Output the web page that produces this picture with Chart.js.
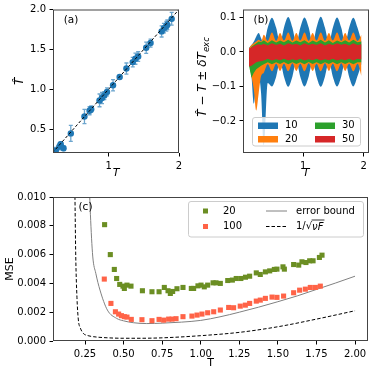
<!DOCTYPE html>
<html><head><meta charset="utf-8">
<script src="https://cdn.jsdelivr.net/npm/chart.js@4.4.0/dist/chart.umd.min.js"></script>
<style>
html,body{margin:0;padding:0;background:#fff;width:374px;height:374px;overflow:hidden;}
canvas{position:absolute;}
</style></head><body>
<canvas id="ca" width="187" height="185" style="left:0;top:0"></canvas>
<canvas id="cb" width="187" height="185" style="left:187px;top:0"></canvas>
<canvas id="cc" width="374" height="194" style="left:0;top:180px"></canvas>
<script>
// ---------- Panel (a) data ----------
const aT    = [0.25,0.30,0.32,0.36,0.463,0.657,0.729,0.753,0.871,0.906,0.939,0.977,1.063,1.157,1.253,1.343,1.381,1.42,1.534,1.596,1.753,1.786,1.82,1.834,1.896];
const aTHat = [0.23,0.28,0.31,0.26,0.446,0.658,0.73,0.75,0.86,0.89,0.92,0.966,1.05,1.154,1.259,1.34,1.383,1.41,1.52,1.579,1.725,1.767,1.79,1.808,1.883];
const aErr  = [0.04,0.04,0.03,0.03,0.10,0.09,0.05,0.04,0.08,0.07,0.05,0.05,0.07,0.02,0.07,0.06,0.07,0.06,0.07,0.05,0.07,0.06,0.06,0.06,0.08];
const aDiag = [0.2, 2.0];
const aXTicks = [1, 2];
const aYTicks = [0.5, 1.0, 1.5, 2.0];

// ---------- Panel (b) data ----------
const bT = [0.10,0.14,0.18,0.22,0.26,0.30,0.345,0.41,0.48,0.55,0.615,0.68,0.75,0.82,0.885,0.95,1.02,1.09,1.155,1.22,1.29,1.36,1.425,1.49,1.56,1.63,1.695,1.76,1.83,1.90,1.965];
const b10Hi = [0.012,0.02,0.03,0.045,0.055,0.04,0.025,0.07,0.099,0.07,0.025,0.071,0.101,0.07,0.025,0.07,0.100,0.071,0.025,0.071,0.102,0.07,0.025,0.07,0.100,0.07,0.025,0.07,0.099,0.07,0.03];
const b10Lo = [-0.03,-0.07,-0.15,-0.09,-0.07,-0.12,-0.27,-0.09,-0.10,-0.072,-0.028,-0.072,-0.101,-0.071,-0.028,-0.072,-0.10,-0.071,-0.028,-0.072,-0.101,-0.071,-0.028,-0.072,-0.10,-0.071,-0.028,-0.072,-0.10,-0.07,-0.035];
const b20Hi = [0.01,0.02,0.025,0.03,0.035,0.03,0.05,0.032,0.056,0.032,0.055,0.033,0.056,0.032,0.055,0.033,0.056,0.032,0.055,0.033,0.056,0.032,0.055,0.033,0.056,0.032,0.055,0.033,0.056,0.032,0.05];
const b20Lo = [-0.03,-0.07,-0.11,-0.17,-0.12,-0.07,-0.06,-0.036,-0.056,-0.034,-0.055,-0.034,-0.056,-0.033,-0.055,-0.034,-0.056,-0.033,-0.055,-0.034,-0.056,-0.033,-0.055,-0.034,-0.056,-0.033,-0.055,-0.034,-0.056,-0.034,-0.07];
const b30Hi = [0.005,0.015,0.02,0.025,0.03,0.028,0.034,0.026,0.034,0.027,0.033,0.028,0.035,0.027,0.033,0.028,0.034,0.026,0.033,0.028,0.035,0.027,0.034,0.026,0.033,0.028,0.034,0.027,0.035,0.028,0.03];
const b30Lo = [-0.04,-0.075,-0.06,-0.05,-0.045,-0.04,-0.036,-0.03,-0.036,-0.03,-0.035,-0.029,-0.036,-0.03,-0.035,-0.03,-0.036,-0.029,-0.035,-0.03,-0.036,-0.03,-0.035,-0.029,-0.036,-0.03,-0.035,-0.03,-0.036,-0.03,-0.03];
const b50Hi = [0.01,0.013,0.017,0.02,0.022,0.02,0.024,0.019,0.025,0.02,0.024,0.019,0.025,0.021,0.024,0.019,0.025,0.02,0.024,0.02,0.025,0.019,0.024,0.02,0.025,0.021,0.024,0.019,0.025,0.02,0.022];
const b50Lo = [-0.042,-0.04,-0.035,-0.03,-0.028,-0.027,-0.025,-0.02,-0.025,-0.021,-0.024,-0.02,-0.025,-0.021,-0.024,-0.02,-0.025,-0.021,-0.024,-0.02,-0.025,-0.021,-0.024,-0.02,-0.025,-0.021,-0.024,-0.02,-0.025,-0.02,-0.022];
const bLabels = ['10','20','30','50'];
const bXTicks = [1, 2];
const bYTicks = [-0.2, -0.1, 0.0, 0.1];

// ---------- Panel (c) data ----------
const c20T   = [0.377,0.414,0.44,0.455,0.475,0.496,0.505,0.522,0.548,0.622,0.684,0.73,0.764,0.788,0.803,0.818,0.846,0.885,0.939,0.954,0.982,1.002,1.023,1.045,1.08,1.099,1.127,1.175,1.205,1.23,1.26,1.29,1.317,1.36,1.386,1.419,1.447,1.477,1.494,1.533,1.542,1.602,1.635,1.656,1.682,1.706,1.728,1.769,1.786];
const c20MSE = [0.00808,0.0060,0.00497,0.00434,0.00393,0.00381,0.00365,0.00388,0.00381,0.00349,0.00342,0.00342,0.00372,0.00349,0.00330,0.00344,0.00363,0.00372,0.00365,0.00365,0.00383,0.00388,0.00376,0.00388,0.00404,0.00404,0.0040,0.0042,0.00423,0.00434,0.00434,0.00443,0.0045,0.00473,0.00462,0.0048,0.00487,0.00497,0.00499,0.00515,0.00499,0.00531,0.00527,0.0055,0.00545,0.00557,0.00557,0.0058,0.00596];
const c100T   = [0.375,0.418,0.447,0.468,0.486,0.505,0.522,0.55,0.619,0.684,0.73,0.76,0.792,0.814,0.84,0.885,0.943,0.976,1.008,1.045,1.084,1.127,1.181,1.213,1.256,1.289,1.317,1.36,1.386,1.419,1.462,1.494,1.537,1.602,1.641,1.678,1.71,1.743,1.775];
const c100MSE = [0.0043,0.00261,0.00203,0.00187,0.00176,0.00169,0.00166,0.0015,0.00148,0.00141,0.0015,0.00145,0.00152,0.00152,0.00155,0.00169,0.00173,0.0018,0.00187,0.00196,0.00203,0.00215,0.00233,0.00231,0.00242,0.00249,0.00261,0.00277,0.00284,0.00296,0.00305,0.00303,0.00312,0.00335,0.00353,0.0036,0.00372,0.00372,0.00381];
const cBoundT   = [0.278,0.285,0.30,0.32,0.347,0.395,0.455,0.50,0.563,0.65,0.75,0.875,1.0,1.125,1.25,1.375,1.5,1.625,1.75,1.875,2.0];
const cBoundMSE = [0.0108,0.0088,0.0059,0.0047,0.00354,0.00215,0.00157,0.0014,0.00127,0.00121,0.00124,0.00131,0.00143,0.00168,0.0020,0.00235,0.00273,0.00313,0.00358,0.00403,0.0045];
const cFishT   = [0.184,0.19,0.198,0.207,0.22,0.239,0.27,0.304,0.4,0.5,0.6,0.75,1.0,1.25,1.5,1.75,2.0];
const cFishMSE = [0.0108,0.0059,0.0030,0.00146,0.0009,0.00053,0.00037,0.0003,0.00022,0.00019,0.00019,0.00022,0.00037,0.0006,0.00099,0.00152,0.0021];
const cXTicks = [0.25,0.50,0.75,1.00,1.25,1.50,1.75,2.00];
const cYTicks = [0.000,0.002,0.004,0.006,0.008,0.010];

// ---------- helpers ----------
Chart.defaults.font.family = "'DejaVu Sans', sans-serif";
Chart.defaults.font.size = 10;
Chart.defaults.color = '#000';
Chart.defaults.animation = false;

const pts = (xs, ys) => xs.map((x, i) => ({x: x, y: ys[i]}));
const fmtMinus = d => v => v.toFixed(d).replace('-', '\u2212');

function axis(c) {
  return {
    type: 'linear', position: c.pos, min: c.min, max: c.max,
    afterFit(s) { if (c.pos === 'left') s.width = c.size; else s.height = c.size; },
    afterBuildTicks(s) { s.ticks = c.ticks.map(v => ({value: v})); },
    ticks: {callback: c.fmt, maxRotation: 0, autoSkip: false, padding: 3.5, color: '#000', font: {size: 10}},
    grid: {display: true, drawOnChartArea: false, drawTicks: true, tickLength: 3.5, tickColor: '#000', tickWidth: 1},
    border: {display: false},
    title: c.title ? {display: true, text: c.title, color: '#000', font: c.tfont, padding: c.tpad} : {display: false}
  };
}
const baseOpts = (pad, scales) => ({
  responsive: false, animation: false, devicePixelRatio: 1,
  layout: {padding: pad},
  plugins: {legend: {display: false}, tooltip: {enabled: false}},
  scales: scales
});
const framePlugin = {id: 'frame', afterDraw(chart) {
  const {ctx, chartArea: a} = chart;
  ctx.save(); ctx.strokeStyle = '#444'; ctx.lineWidth = 1;
  ctx.strokeRect(a.left + 0.5, a.top + 0.5, a.right - a.left - 1, a.bottom - a.top - 1);
  ctx.restore();
}};
function textPlugin(id, items) {
  return {id: id, afterDraw(chart) {
    const ctx = chart.ctx; ctx.save();
    items.forEach(it => { ctx.font = it.font; ctx.fillStyle = '#000'; ctx.textAlign = it.align || 'center'; ctx.textBaseline = 'middle'; ctx.fillText(it.t, it.x, it.y); });
    ctx.restore();
  }};
}
function roundRect(ctx, x, y, w, h, r) {
  ctx.beginPath();
  ctx.moveTo(x + r, y); ctx.lineTo(x + w - r, y); ctx.quadraticCurveTo(x + w, y, x + w, y + r);
  ctx.lineTo(x + w, y + h - r); ctx.quadraticCurveTo(x + w, y + h, x + w - r, y + h);
  ctx.lineTo(x + r, y + h); ctx.quadraticCurveTo(x, y + h, x, y + h - r);
  ctx.lineTo(x, y + r); ctx.quadraticCurveTo(x, y, x + r, y); ctx.closePath();
}

// ---------- Panel (a) ----------
const errPlugin = {id: 'err', beforeDatasetsDraw(chart) {
  const {ctx, chartArea: a, scales: {x, y}} = chart;
  ctx.save(); ctx.beginPath(); ctx.rect(a.left, a.top, a.right - a.left, a.bottom - a.top); ctx.clip();
  ctx.strokeStyle = 'rgba(31,119,180,0.65)'; ctx.lineWidth = 1.3;
  aT.forEach((t, i) => {
    const px = x.getPixelForValue(t);
    const p1 = y.getPixelForValue(aTHat[i] - aErr[i]), p2 = y.getPixelForValue(aTHat[i] + aErr[i]);
    ctx.beginPath();
    ctx.moveTo(px, p1); ctx.lineTo(px, p2);
    ctx.moveTo(px - 2, p1); ctx.lineTo(px + 2, p1);
    ctx.moveTo(px - 2, p2); ctx.lineTo(px + 2, p2);
    ctx.stroke();
  });
  ctx.restore();
}};
new Chart(document.getElementById('ca'), {
  type: 'scatter',
  data: {datasets: [
    {type: 'line', data: pts(aDiag, aDiag), borderColor: '#000', borderWidth: 1, borderDash: [3, 2], pointRadius: 0, fill: false},
    {data: pts(aT, aTHat), pointRadius: 3.2, backgroundColor: '#1f77b4', borderWidth: 0}
  ]},
  options: baseOpts({top: 9, right: 8, left: 0, bottom: 0}, {
    x: axis({pos: 'bottom', min: 0.21, max: 2.0, size: 32, ticks: aXTicks, fmt: v => String(v),
             title: 'T', tfont: {size: 11, style: 'italic'}, tpad: {top: 0, bottom: 5}}),
    y: axis({pos: 'left', min: 0.2, max: 2.0, size: 53, ticks: aYTicks, fmt: v => v.toFixed(1),
             title: 'T\u0302', tfont: {size: 12, style: 'italic'}, tpad: {top: 13, bottom: 0}})
  }),
  plugins: [errPlugin, framePlugin, textPlugin('lbla', [{t: '(a)', x: 71, y: 20.5, font: '10.5px "DejaVu Sans"'}])]
});

// ---------- Panel (b) ----------
const bColors = ['#1f77b4', '#ff7f0e', '#2ca02c', '#d62728'];
const bHi = [b10Hi, b20Hi, b30Hi, b50Hi], bLo = [b10Lo, b20Lo, b30Lo, b50Lo];
const bSets = [];
[3, 2, 1, 0].forEach(k => {
  const mode = k < 2 ? 'monotone' : 'default';
  bSets.push({data: pts(bT, bHi[k]), borderWidth: 0, pointRadius: 0, fill: false, cubicInterpolationMode: mode, tension: 0, backgroundColor: bColors[k], borderColor: bColors[k]});
  bSets.push({data: pts(bT, bLo[k]), borderWidth: 0, pointRadius: 0, fill: '-1', cubicInterpolationMode: mode, tension: 0, backgroundColor: bColors[k], borderColor: bColors[k]});
});
const bLegend = {id: 'blegend', afterDraw(chart) {
  const ctx = chart.ctx; ctx.save();
  roundRect(ctx, 65.5, 117.5, 108, 28.5, 2.5);
  ctx.fillStyle = 'rgba(255,255,255,0.8)'; ctx.fill();
  ctx.strokeStyle = '#cccccc'; ctx.lineWidth = 1; ctx.stroke();
  const pos = [[71, 125.5], [71, 139], [128, 125.5], [128, 139]];
  ctx.font = '10px "DejaVu Sans"'; ctx.textBaseline = 'middle'; ctx.textAlign = 'left';
  bLabels.forEach((lab, k) => {
    ctx.fillStyle = bColors[k]; ctx.fillRect(pos[k][0], pos[k][1] - 3, 20, 6.5);
    ctx.fillStyle = '#000'; ctx.fillText(lab, pos[k][0] + 27, pos[k][1]);
  });
  ctx.restore();
}};
const bYLabel = {id: 'bylabel', afterDraw(chart) {
  const ctx = chart.ctx; ctx.save();
  ctx.translate(16, 77); ctx.rotate(-Math.PI / 2);
  const parts = [
    {t: 'T\u0302', f: 'italic 12px "DejaVu Sans"', dy: 0},
    {t: ' \u2212 ', f: '12px "DejaVu Sans"', dy: 0},
    {t: 'T', f: 'italic 12px "DejaVu Sans"', dy: 0},
    {t: ' \u00b1 ', f: '12px "DejaVu Sans"', dy: 0},
    {t: '\u03b4T', f: 'italic 12px "DejaVu Sans"', dy: 0},
    {t: 'exc', f: 'italic 8.5px "DejaVu Sans"', dy: 3.5}
  ];
  let w = 0; parts.forEach(p => { ctx.font = p.f; p.w = ctx.measureText(p.t).width; w += p.w; });
  let x = -w / 2; ctx.fillStyle = '#000'; ctx.textBaseline = 'middle'; ctx.textAlign = 'left';
  parts.forEach(p => { ctx.font = p.f; ctx.fillText(p.t, x, p.dy); x += p.w; });
  ctx.restore();
}};
new Chart(document.getElementById('cb'), {
  type: 'line',
  data: {datasets: bSets},
  options: baseOpts({top: 9, right: 5, left: 0, bottom: 0}, {
    x: axis({pos: 'bottom', min: 0.0, max: 2.09, size: 32, ticks: bXTicks, fmt: v => String(v),
             title: 'T', tfont: {size: 11, style: 'italic'}, tpad: {top: 0, bottom: 5}}),
    y: axis({pos: 'left', min: -0.293, max: 0.123, size: 56, ticks: bYTicks, fmt: fmtMinus(1)})
  }),
  plugins: [framePlugin, bYLabel, textPlugin('lblb', [{t: '(b)', x: 74, y: 20, font: '10.5px "DejaVu Sans"'}]), bLegend]
});

// ---------- Panel (c) ----------
const cLegend = {id: 'clegend', afterDraw(chart) {
  const ctx = chart.ctx; ctx.save();
  roundRect(ctx, 188.5, 21.5, 175, 35.5, 2.5);
  ctx.fillStyle = 'rgba(255,255,255,0.8)'; ctx.fill();
  ctx.strokeStyle = '#cccccc'; ctx.lineWidth = 1; ctx.stroke();
  const y1 = 31, y2 = 46.5;
  ctx.fillStyle = '#6b8e23'; ctx.fillRect(203, y1 - 2.5, 5, 5);
  ctx.fillStyle = '#ff6347'; ctx.fillRect(203, y2 - 2.5, 5, 5);
  ctx.strokeStyle = '#808080'; ctx.lineWidth = 1;
  ctx.beginPath(); ctx.moveTo(266, y1); ctx.lineTo(287, y1); ctx.stroke();
  ctx.strokeStyle = '#000'; ctx.setLineDash([3.5, 2]);
  ctx.beginPath(); ctx.moveTo(266, y2); ctx.lineTo(287, y2); ctx.stroke();
  ctx.setLineDash([]);
  ctx.fillStyle = '#000'; ctx.textBaseline = 'middle'; ctx.textAlign = 'left';
  ctx.font = '10px "DejaVu Sans"';
  ctx.fillText('20', 223, y1); ctx.fillText('100', 223, y2);
  ctx.fillText('error bound', 296, y1);
  // 1/sqrt(nu F)
  let x = 296;
  ctx.fillText('1/', x, y2); x += ctx.measureText('1/').width;
  ctx.fillText('\u221a', x, y2); x += ctx.measureText('\u221a').width;
  ctx.font = 'italic 10px "DejaVu Sans"';
  const w = ctx.measureText('\u03bdF').width;
  ctx.fillText('\u03bdF', x, y2 + 0.5);
  ctx.lineWidth = 0.8; ctx.beginPath(); ctx.moveTo(x - 0.5, y2 - 6.5); ctx.lineTo(x + w + 1, y2 - 6.5); ctx.stroke();
  ctx.restore();
}};
new Chart(document.getElementById('cc'), {
  type: 'scatter',
  data: {datasets: [
    {data: pts(c20T, c20MSE), pointStyle: 'rect', pointRadius: 3.6, backgroundColor: '#6b8e23', borderWidth: 0},
    {data: pts(c100T, c100MSE), pointStyle: 'rect', pointRadius: 3.6, backgroundColor: '#ff6347', borderWidth: 0},
    {data: pts(cBoundT, cBoundMSE), showLine: true, borderColor: '#808080', borderWidth: 1, pointRadius: 0, cubicInterpolationMode: 'monotone', fill: false},
    {data: pts(cFishT, cFishMSE), showLine: true, borderColor: '#000', borderWidth: 1, borderDash: [3.5, 2], pointRadius: 0, cubicInterpolationMode: 'monotone', fill: false}
  ]},
  options: baseOpts({top: 17, right: 6, left: 0, bottom: 0}, {
    x: axis({pos: 'bottom', min: 0.0426, max: 2.084, size: 33, ticks: cXTicks, fmt: v => v.toFixed(2),
             title: 'T', tfont: {size: 11}, tpad: {top: 0, bottom: 4}}),
    y: axis({pos: 'left', min: 0.0, max: 0.010, size: 53, ticks: cYTicks, fmt: v => v.toFixed(3),
             title: 'MSE', tfont: {size: 11}, tpad: {top: 3.5, bottom: 0}})
  }),
  plugins: [framePlugin, textPlugin('lblc', [{t: '(c)', x: 85.5, y: 27.5, font: '10.5px "DejaVu Sans"'}]), cLegend]
});
</script>
</body></html>
